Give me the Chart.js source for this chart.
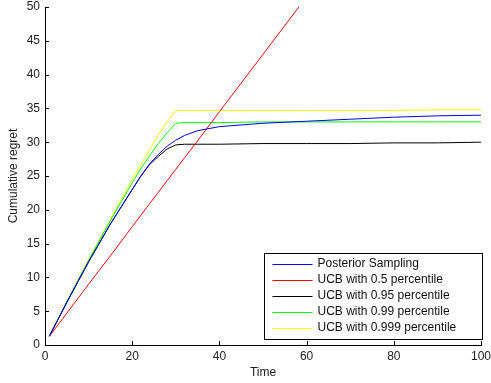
<!DOCTYPE html>
<html>
<head>
<meta charset="utf-8">
<script src="https://cdn.jsdelivr.net/npm/chart.js@4.4.0/dist/chart.umd.min.js"></script>
<style>
  html, body { margin: 0; padding: 0; background: #fff; }
  #contenedor { width: 491px; height: 383px; }
</style>
</head>
<body>
<div id="contenedor"><canvas id="graficoRegret"></canvas></div>
<script>
let tiempos = [1, 5, 10, 15, 20, 22, 24, 26, 28, 30, 32, 35, 40, 50, 60, 70, 80, 90, 100];

let posteriorSampling = [1.3, 6.3, 12.3, 17.9, 23.0, 25.0, 26.8, 28.2, 29.4, 30.3, 31.0, 31.7, 32.3, 32.8, 33.1, 33.4, 33.7, 33.9, 34.0];
let ucb050 = [1.3, 4.7, 9.0, 13.2, 17.5, 19.2, 20.9, 22.6, 24.3, 26.0, 27.7, 30.2, 34.5, 43.0, 51.5, 60.0, 68.5, 77.0, 85.5];
let ucb095 = [1.3, 6.3, 12.3, 17.9, 23.0, 25.0, 26.7, 27.9, 29.0, 29.6, 29.7, 29.7, 29.7, 29.8, 29.8, 29.8, 29.9, 29.9, 30.0];
let ucb099 = [1.3, 6.4, 12.5, 18.4, 24.0, 26.1, 28.0, 29.8, 31.4, 32.8, 32.9, 32.9, 32.9, 33.0, 33.0, 33.0, 33.0, 33.0, 33.0];
let ucb0999 = [1.3, 6.4, 12.6, 18.6, 24.5, 26.7, 28.9, 31.1, 33.0, 34.7, 34.7, 34.7, 34.7, 34.7, 34.7, 34.7, 34.7, 34.8, 34.8];

let nombres = ['Posterior Sampling', 'UCB with 0.5 percentile', 'UCB with 0.95 percentile', 'UCB with 0.99 percentile', 'UCB with 0.999 percentile'];
let colores = ['#0000ff', '#ff0000', '#000000', '#00ff00', '#ffff00'];

let ticksX = [0, 20, 40, 60, 80, 100];
let ticksY = [0, 5, 10, 15, 20, 25, 30, 35, 40, 45, 50];

const fuente = 'Liberation Sans, Arial, Helvetica, sans-serif';

function Serie(valores) {
  return tiempos.map(function (t, i) { return { x: t, y: valores[i] }; });
}

let series = [posteriorSampling, ucb050, ucb095, ucb099, ucb0999];
let datasets = series.map(function (valores, i) {
  return {
    label: nombres[i],
    data: Serie(valores),
    borderColor: colores[i],
    backgroundColor: colores[i],
    borderWidth: 1,
    pointRadius: 0,
    tension: 0,
    fill: false
  };
});

// ticks hacia adentro, como en matlab
const ticksAdentro = {
  id: 'ticksAdentro',
  afterDraw: function (chart) {
    let ctx = chart.ctx;
    let area = chart.chartArea;
    let sx = chart.scales.x;
    let sy = chart.scales.y;
    ctx.save();
    ctx.strokeStyle = '#000';
    ctx.lineWidth = 1;
    ctx.beginPath();
    ticksX.forEach(function (v) {
      let px = Math.round(sx.getPixelForValue(v)) + 0.5;
      ctx.moveTo(px, area.bottom);
      ctx.lineTo(px, area.bottom - 4);
    });
    ticksY.forEach(function (v) {
      let py = Math.round(sy.getPixelForValue(v)) + 0.5;
      ctx.moveTo(area.left, py);
      ctx.lineTo(area.left + 4, py);
    });
    ctx.stroke();
    ctx.restore();
  }
};

// leyenda dibujada dentro del grafico, abajo a la derecha
const leyenda = {
  id: 'leyenda',
  afterDraw: function (chart) {
    let ctx = chart.ctx;
    let area = chart.chartArea;
    let ancho = 218;
    let alto = 86;
    let x0 = Math.round(area.right + 1 - ancho) + 0.5;
    let y0 = Math.round(area.bottom - 6 - alto) + 0.5;
    ctx.save();
    ctx.fillStyle = '#fff';
    ctx.fillRect(x0, y0, ancho, alto);
    ctx.strokeStyle = '#000';
    ctx.lineWidth = 1;
    ctx.strokeRect(x0, y0, ancho, alto);
    ctx.font = '12px ' + fuente;
    ctx.textBaseline = 'middle';
    chart.data.datasets.forEach(function (ds, i) {
      let y = y0 + 10 + i * 16;
      ctx.strokeStyle = ds.borderColor;
      ctx.beginPath();
      ctx.moveTo(x0 + 8, Math.round(y) + 0.5);
      ctx.lineTo(x0 + 48, Math.round(y) + 0.5);
      ctx.stroke();
      ctx.fillStyle = '#111';
      ctx.fillText(ds.label, x0 + 53, y);
    });
    ctx.restore();
  }
};

let ctxRegret = document.getElementById('graficoRegret');
new Chart(ctxRegret, {
  type: 'line',
  data: { datasets: datasets },
  options: {
    responsive: true,
    maintainAspectRatio: false,
    animation: false,
    layout: { padding: { top: 7, right: 10, left: 0, bottom: 0 } },
    plugins: {
      legend: { display: false },
      tooltip: { enabled: false }
    },
    scales: {
      x: {
        type: 'linear',
        min: 0,
        max: 100,
        afterBuildTicks: function (scale) {
          scale.ticks = ticksX.map(function (v) { return { value: v }; });
        },
        afterFit: function (scale) {
          scale.height = 38;
          scale.paddingLeft = 0;
          scale.paddingRight = 0;
        },
        grid: { display: false, drawTicks: false },
        border: { display: true, color: '#000', width: 1 },
        ticks: { padding: 4, color: '#222', font: { family: fuente, size: 12 } },
        title: {
          display: true,
          text: 'Time',
          color: '#222',
          font: { family: fuente, size: 12 },
          padding: { top: 0, bottom: 3 }
        }
      },
      y: {
        min: 0,
        max: 50,
        afterBuildTicks: function (scale) {
          scale.ticks = ticksY.map(function (v) { return { value: v }; });
        },
        afterFit: function (scale) {
          scale.width = 45;
          scale.paddingTop = 0;
          scale.paddingBottom = 0;
        },
        grid: { display: false, drawTicks: false },
        border: { display: true, color: '#000', width: 1 },
        ticks: { padding: 5, color: '#222', font: { family: fuente, size: 12 } },
        title: {
          display: true,
          text: 'Cumulative regret',
          color: '#222',
          font: { family: fuente, size: 12 },
          padding: { top: 6, bottom: 0 }
        }
      }
    }
  },
  plugins: [ticksAdentro, leyenda]
});
</script>
</body>
</html>
